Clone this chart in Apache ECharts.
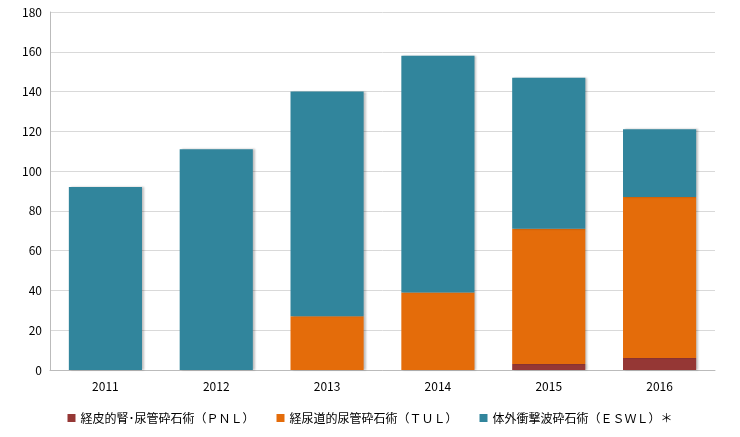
<!DOCTYPE html>
<html><head><meta charset="utf-8">
<script src="https://cdn.jsdelivr.net/npm/echarts@6/dist/echarts.min.js"></script>
<style>html,body{margin:0;background:#fff}#c{width:740px;height:437px}</style>
</head><body><div id="c"></div>
<script>
const years = ["2011", "2012", "2013", "2014", "2015", "2016"];
const pnl = [0, 0, 0, 0, 3, 6];
const tul = [0, 0, 27, 39, 68, 81];
const eswl = [92, 111, 113, 119, 76, 34];
const names = ["経皮的腎･尿管砕石術（ＰＮＬ）", "経尿道的尿管砕石術（ＴＵＬ）", "体外衝撃波砕石術（ＥＳＷＬ）＊"];
const colors = ["#953735", "#e46c0a", "#31859c"];

const chart = echarts.init(document.getElementById("c"));
const font = "'Noto Sans CJK JP', sans-serif";
chart.setOption({
  animation: false,
  textStyle: { fontFamily: font },
  grid: { left: 50, right: 25, top: 12, bottom: 67 },
  legend: {
    bottom: 8, itemWidth: 8, itemHeight: 8, itemGap: 22, icon: "rect",
    textStyle: { fontSize: 12, color: "#000", fontFamily: font },
    data: names
  },
  xAxis: {
    type: "category", data: years,
    axisLine: { lineStyle: { color: "#bbb" } }, axisTick: { show: false },
    axisLabel: { color: "#000", fontSize: 12, margin: 10 }
  },
  yAxis: {
    type: "value", min: 0, max: 180, interval: 20,
    axisLine: { show: true, lineStyle: { color: "#bbb" } },
    splitLine: { lineStyle: { color: "#d9d9d9" } },
    axisLabel: { color: "#000", fontSize: 12 }
  },
  series: [pnl, tul, eswl].map((d, i) => ({
    name: names[i], type: "bar", stack: "t", data: d, barWidth: "66%",
    itemStyle: { color: colors[i], shadowColor: "rgba(0,0,0,0.25)", shadowOffsetX: 2, shadowBlur: 2 }
  }))
});
</script></body></html>
